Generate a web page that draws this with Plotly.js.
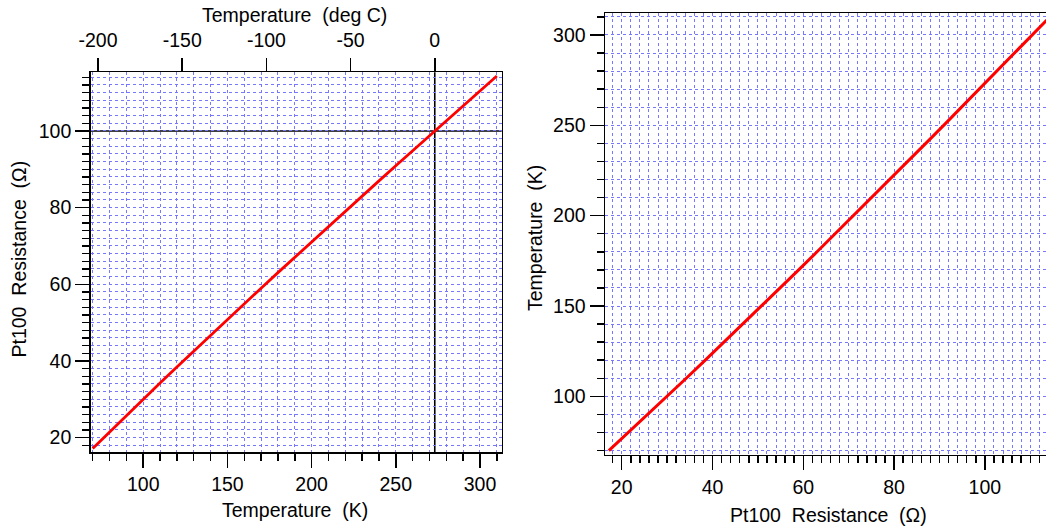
<!DOCTYPE html>
<html>
<head>
<meta charset="utf-8">
<script src="https://cdn.plot.ly/plotly-3.0.1.min.js"></script>
<style>html,body{margin:0;padding:0;background:#fff;}#chart{width:1046px;height:526px;}</style>
</head>
<body>
<div id="chart"></div>
<script>
// Temperature (K) and Pt100 resistance (Ohm)
const tempK = [70, 80, 90, 100, 110, 120, 130, 140, 150, 160, 170, 180, 190, 200, 210, 220, 230, 240, 250, 260, 270, 280, 290, 300, 310];
const resOhm = [17.16, 21.47, 25.75, 30.00, 34.22, 38.41, 42.57, 46.71, 50.82, 54.91, 58.98, 63.03, 67.06, 71.07, 75.07, 79.05, 83.02, 86.98, 90.92, 94.85, 98.77, 102.67, 106.57, 110.45, 114.32];
const kelvinOffset = 273.15;
const refTempK = 273.15;   // 0 deg C marker
const refRes = 100;        // 100 Ohm marker
const tempC = tempK.map(t => t - kelvinOffset);
// top axis tick labels (deg C), written with a plain hyphen as in the reference
const topTickVals = [-200, -150, -100, -50, 0];
const topTickText = ['-200', '-150', '-100', '-50', '0'];

const FONT = {family: 'Liberation Sans, Arial, sans-serif', size: 19.5, color: '#000'};
const GRID = 'rgb(120,120,255)';
const DASH = 'dot';
const W = 1046, H = 526;
const px = v => v / W;
const py = v => 1 - v / H;

const xRangeL = [68.8, 312.9];
const yRangeL = [16.24, 115.3];
const xRangeR = [16.32, 113.46];
const yRangeR = [67.7, 312.0];

function minorOpts(dt) {
  return {dtick: dt, ticklen: 7, tickwidth: 1.5, tickcolor: '#000', ticks: 'outside',
          showgrid: true, gridcolor: GRID, gridwidth: 1, griddash: DASH};
}
function baseAxis(extra) {
  return Object.assign({
    showline: true, linecolor: '#000', linewidth: 1.5,
    ticks: 'outside', tickcolor: '#000', tickwidth: 1.5, ticklen: 14,
    showgrid: true, gridcolor: GRID, gridwidth: 1, griddash: DASH,
    zeroline: false, tickfont: FONT, automargin: false, fixedrange: true
  }, extra);
}

const traces = [
  {x: tempK, y: resOhm, xaxis: 'x', yaxis: 'y', mode: 'lines',
   line: {color: '#ff0000', width: 2.8}, hoverinfo: 'skip', showlegend: false},
  {x: tempC, y: resOhm, xaxis: 'x2', yaxis: 'y', mode: 'lines',
   line: {color: 'rgba(0,0,0,0)', width: 0}, hoverinfo: 'skip', showlegend: false},
  {x: resOhm, y: tempK, xaxis: 'x3', yaxis: 'y3', mode: 'lines',
   line: {color: '#ff0000', width: 3}, hoverinfo: 'skip', showlegend: false}
];

const layout = {
  width: W, height: H,
  margin: {l: 0, r: 0, t: 0, b: 0, pad: 0},
  paper_bgcolor: '#fff', plot_bgcolor: '#fff',
  font: FONT, showlegend: false,
  xaxis: baseAxis({domain: [px(90.7), px(501.7)], range: xRangeL, anchor: 'y', mirror: true,
    dtick: 50, tick0: 0, minor: minorOpts(10)}),
  xaxis2: baseAxis({overlaying: 'x', side: 'top', anchor: 'y', range: [xRangeL[0] - kelvinOffset, xRangeL[1] - kelvinOffset],
    tickmode: 'array', tickvals: topTickVals, ticktext: topTickText, ticklen: 13, showgrid: false,
    ticklabelstandoff: 3}),
  yaxis: baseAxis({domain: [py(452), py(72.3)], range: yRangeL, anchor: 'x', mirror: true,
    dtick: 20, tick0: 0, minor: minorOpts(2)}),
  xaxis3: baseAxis({domain: [px(605), 1], range: xRangeR, anchor: 'y3', mirror: true,
    dtick: 20, tick0: 0, minor: minorOpts(2)}),
  yaxis3: baseAxis({domain: [py(454.7), py(13.3)], range: yRangeR, anchor: 'x3', mirror: false,
    dtick: 50, tick0: 0, minor: minorOpts(10)}),
  shapes: [
    {type: 'line', xref: 'x', yref: 'y domain', x0: refTempK, x1: refTempK, y0: 0, y1: 1,
     line: {color: '#000', width: 1.6}, layer: 'below'},
    {type: 'line', xref: 'x domain', yref: 'y', x0: 0, x1: 1, y0: refRes, y1: refRes,
     line: {color: '#000', width: 1.6}, layer: 'below'}
  ],
  annotations: [
    {text: 'Temperature\u00a0\u00a0(K)', xref: 'paper', yref: 'paper', x: px(295), y: py(510),
     xanchor: 'center', yanchor: 'middle', showarrow: false, font: FONT},
    {text: 'Temperature\u00a0\u00a0(deg C)', xref: 'paper', yref: 'paper', x: px(294), y: py(15),
     xanchor: 'center', yanchor: 'middle', showarrow: false, font: FONT},
    {text: 'Pt100\u00a0\u00a0Resistance\u00a0\u00a0(\u03a9)', xref: 'paper', yref: 'paper', x: px(18.5), y: py(259),
     xanchor: 'center', yanchor: 'middle', textangle: -90, showarrow: false, font: FONT},
    {text: 'Temperature\u00a0\u00a0(K)', xref: 'paper', yref: 'paper', x: px(535), y: py(238),
     xanchor: 'center', yanchor: 'middle', textangle: -90, showarrow: false, font: FONT},
    {text: 'Pt100\u00a0\u00a0Resistance\u00a0\u00a0(\u03a9)', xref: 'paper', yref: 'paper', x: px(828), y: py(515),
     xanchor: 'center', yanchor: 'middle', showarrow: false, font: FONT}
  ]
};

Plotly.newPlot('chart', traces, layout, {staticPlot: true, displayModeBar: false});
</script>
</body>
</html>
